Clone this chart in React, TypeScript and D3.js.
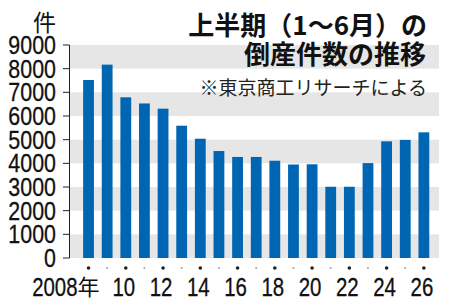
import React from "react";
import * as d3 from "d3";

const years = [2008,2009,2010,2011,2012,2013,2014,2015,2016,2017,2018,2019,2020,2021,2022,2023,2024,2025,2026];
const counts = [7520,8170,6790,6530,6310,5590,5040,4520,4270,4270,4110,3950,3960,3010,3010,4010,4930,4990,5310];
const yTicks = [0,1000,2000,3000,4000,5000,6000,7000,8000,9000];
const xLabels: Record<number,string> = {2008:"2008",2010:"10",2012:"12",2014:"14",2016:"16",2018:"18",2020:"20",2022:"22",2024:"24",2026:"26"};

const W = 450, H = 307;
const left = 70, right = 439, top = 45, bottom = 258;
const sans = "'Liberation Sans',Arial,sans-serif";
const cjk = "'Noto Sans CJK JP',sans-serif";

function NText({x, y, anchor, size, sx, children}: {x:number; y:number; anchor:string; size:number; sx:number; children:any}) {
  return (
    <text transform={`translate(${x},${y}) scale(${sx},1)`} textAnchor={anchor} fontFamily={sans} fontSize={size} fill="#111" stroke="#111" strokeWidth={0.3}>{children}</text>
  );
}

export default function App() {
  const x = d3.scaleBand<number>().domain(years).range([79.4, 433]).paddingInner(0.42).paddingOuter(0.2);
  const y = d3.scaleLinear().domain([0, 9000]).range([bottom, top]);
  const bw = x.bandwidth();
  return (
    <svg width={W} height={H} style={{position:"absolute",left:0,top:0,background:"#fff"}}>
      {yTicks.slice(0,-1).map((t,i)=> i%2===0 ? (
        <rect key={t} x={left} y={y(t+1000)} width={right-left} height={y(t)-y(t+1000)} fill="#e6e6e6"/>
      ) : null)}
      <text x={427} y={35} textAnchor="end" fontFamily={cjk} fontWeight={700} fontSize={26} fill="#111">上半期（1～6月）の</text>
      <text x={426} y={64} textAnchor="end" fontFamily={cjk} fontWeight={700} fontSize={26} fill="#111">倒産件数の推移</text>
      <text x={427} y={95} textAnchor="end" fontFamily={cjk} fontSize={19} fill="#222">※東京商工リサーチによる</text>
      {years.map((yr,i)=>(
        <rect key={yr} x={x(yr)} y={y(counts[i])} width={bw} height={bottom-y(counts[i])} fill="#0066b3"/>
      ))}
      <line x1={69.5} x2={69.5} y1={y(9000)} y2={y(0)} stroke="#222" strokeWidth={1}/>
      {yTicks.map(t=>(
        <g key={t}>
          <line x1={63} x2={69.5} y1={y(t)} y2={y(t)} stroke="#222" strokeWidth={1}/>
          <NText x={56} y={y(t)+9} anchor="end" size={25.5} sx={0.84}>{t}</NText>
        </g>
      ))}
      <text x={56} y={31} textAnchor="end" fontFamily={cjk} fontSize={23} fill="#111">件</text>
      {years.map((yr,i)=>(
        <circle key={yr} cx={x(yr)!+bw/2} cy={268} r={i%2===0?1.8:1.1} fill={i%2===0?"#222":"#aaa"}/>
      ))}
      {years.filter(yr=>xLabels[yr]).map(yr=>(
        yr===2008 ? (
          <g key={yr}>
            <NText x={x(yr)!+bw/2-11} y={296} anchor="end" size={25.5} sx={0.8}>2008</NText>
            <text x={x(yr)!+bw/2-11} y={295} fontFamily={cjk} fontSize={22} fill="#111">年</text>
          </g>
        ) : (
          <NText key={yr} x={x(yr)!+bw/2-2} y={296} anchor="middle" size={25.5} sx={0.8}>{xLabels[yr]}</NText>
        )
      ))}
    </svg>
  );
}
